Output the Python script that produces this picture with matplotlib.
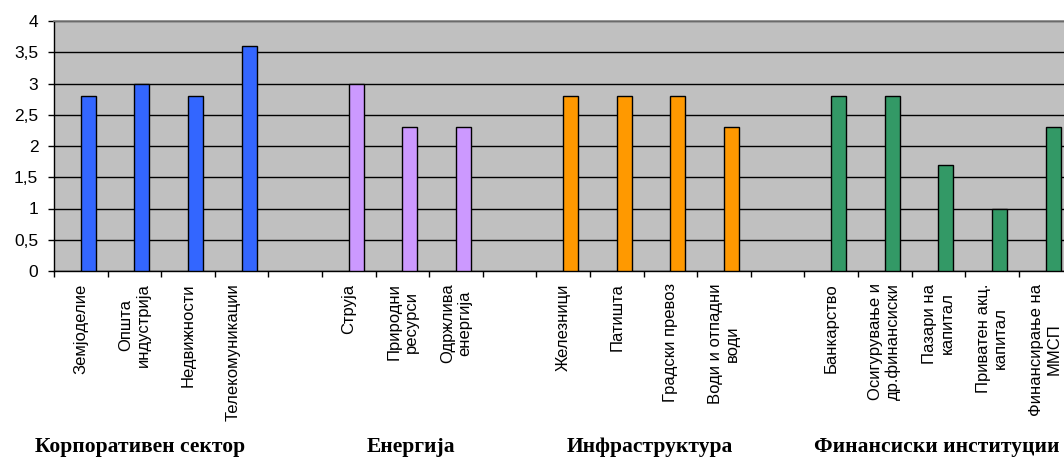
import numpy as np
import matplotlib
matplotlib.use("Agg")
import matplotlib.pyplot as plt

# data
corp_labels = ["Земјоделие", "Општа\nиндустрија", "Недвижности", "Телекомуникации\n"]
corp_values = [2.8, 3.0, 2.8, 3.6]
energy_labels = ["Струја", "Природни\nресурси", "Одржлива\nенергија"]
energy_values = [3.0, 2.3, 2.3]
infra_labels = ["Железници", "Патишта", "Градски превоз", "Води и отпадни\nводи"]
infra_values = [2.8, 2.8, 2.8, 2.3]
fin_labels = ["Банкарство", "Осигурување и\nдр.финансиски", "Пазари на\nкапитал",
              "Приватен акц.\nкапитал", "Финансирање на\nММСП"]
fin_values = [2.8, 2.8, 1.7, 1.0, 2.3]

group_names = ["Корпоративен сектор", "Енергија", "Инфраструктура", "Финансиски институции"]
group_colors = ["#3366FF", "#CC99FF", "#FF9900", "#339966"]
yticks = [0, 0.5, 1, 1.5, 2, 2.5, 3, 3.5, 4]

groups = [(corp_labels, corp_values), (energy_labels, energy_values),
          (infra_labels, infra_values), (fin_labels, fin_values)]

# build slots, one empty category between groups
labels, values, colors = [], [], []
for gi, (lab, val) in enumerate(groups):
    if gi > 0:
        labels.append("")
        values.append(0)
        colors.append("none")
    labels += lab
    values += val
    colors += [group_colors[gi]] * len(val)
x = np.arange(len(labels))

plt.rcParams['font.family'] = ['Liberation Sans', 'DejaVu Sans']

fig = plt.figure(figsize=(10.64, 4.57), dpi=100)
ax = fig.add_axes([54 / 1064, 186 / 457, 1018.4 / 1064, 250 / 457])
ax.set_facecolor("#C0C0C0")

mask = np.array(values) > 0
ax.bar(x[mask], np.array(values)[mask], width=0.28, align='edge',
       color=np.array(colors)[mask], edgecolor='black', linewidth=1, zorder=3)

ax.set_xlim(-0.5, len(labels) - 0.5)
ax.set_ylim(0, 4)
ax.set_yticks(yticks)
ax.set_yticklabels([f"{v:g}".replace(".", ",") for v in yticks], fontsize=12.5)
ax.yaxis.grid(True, color='black', linewidth=1)
ax.set_axisbelow(True)

ax.set_xticks(np.arange(-0.5, len(labels), 1))
ax.set_xticklabels([])
ax.set_xticks(x, labels, minor=True, rotation=90, fontsize=12)
ax.tick_params(axis='x', which='major', length=4, width=1, direction='out')
ax.tick_params(axis='x', which='minor', length=0, pad=9)
ax.tick_params(axis='y', length=4.3, width=1, direction='out', pad=7)

for s in ['left', 'bottom']:
    ax.spines[s].set_color('black')
    ax.spines[s].set_linewidth(1)
ax.spines['top'].set_color('#808080')
ax.spines['top'].set_linewidth(1.2)
ax.spines['right'].set_visible(False)

group_x = [140, 411, 650, 937]
for name, gx in zip(group_names, group_x):
    fig.text(gx / 1064, 1 - 447 / 457, name, ha='center', va='center',
             fontsize=15.5, fontweight='bold', family='Liberation Serif')

fig.savefig("out.png", dpi=100)
